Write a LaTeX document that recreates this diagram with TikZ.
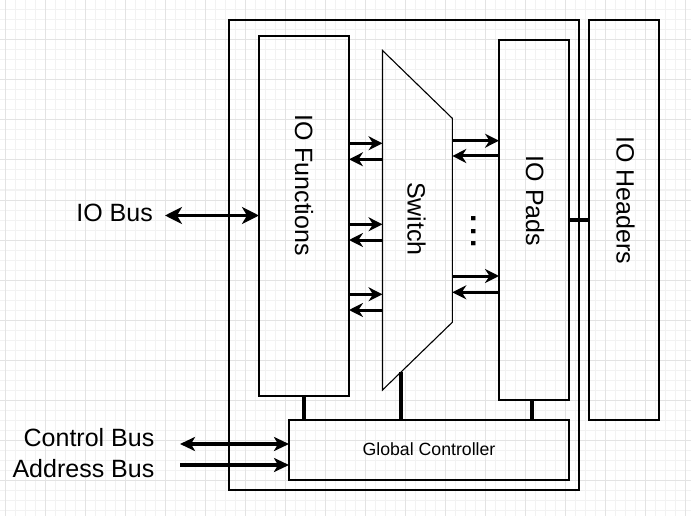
\documentclass[tikz,border=0pt]{standalone}
\usepackage{fontspec}
\setmainfont{Liberation Sans}
\usetikzlibrary{arrows.meta}
\definecolor{gridminor}{gray}{0.95}
\definecolor{gridmajor}{gray}{0.89}
\begin{document}
\begin{tikzpicture}[x=1pt,y=-1pt,
  box/.style={draw=black,line width=1.1pt,inner sep=0pt,outer sep=0pt,anchor=north west},
  big/.style={font=\fontsize{25}{30}\selectfont,inner sep=0pt},
  small/.style={font=\fontsize{17.7}{21}\selectfont,inner sep=0pt},
  conn/.style={line width=3.2pt},
  sarr/.style={line width=3pt,-{Stealth[length=14pt,width=14pt,inset=4.5pt]}},
  barr/.style={line width=3.4pt,{Stealth[length=17pt,width=17pt,inset=5pt]}-{Stealth[length=17pt,width=17pt,inset=5pt]}},
  carr/.style={line width=3.2pt,-{Stealth[length=15pt,width=14pt,inset=4pt]}},
  cdarr/.style={line width=3.2pt,{Stealth[length=15pt,width=14pt,inset=4pt]}-{Stealth[length=15pt,width=14pt,inset=4pt]}},
]
\useasboundingbox (0,0) rectangle (691,516);
% grid
\foreach \i in {5,15,...,685} \draw[gridminor,line width=1pt] (\i,0) -- (\i,516);
\foreach \j in {10,20,...,510} \draw[gridminor,line width=1pt] (0,\j) -- (691,\j);
\foreach \i in {5,45,...,685} \draw[gridmajor,line width=1pt] (\i,0) -- (\i,516);
\foreach \j in {40,80,...,510} \draw[gridmajor,line width=1pt] (0,\j) -- (691,\j);

% boxes
\node[box,minimum width=350pt,minimum height=470pt] (outer) at (229,20) {};
\node[box,minimum width=90pt,minimum height=360pt] (iof) at (259,36) {};
\node[box,minimum width=70pt,minimum height=360pt] (pads) at (499,40) {};
\node[box,minimum width=70pt,minimum height=400pt] (hdr) at (589,20) {};
\node[box,minimum width=280pt,minimum height=60pt] (gc) at (289,420) {};

% switch trapezoid
\coordinate (swtl) at (382.5,50.5);
\coordinate (swtr) at (452.3,118.3);
\coordinate (swbr) at (452.3,322.3);
\coordinate (swbl) at (382.5,390);
\draw[line width=1.1pt,line join=miter] (swtl) -- (swtr) -- (swbr) -- (swbl) -- cycle;
\coordinate (swb) at (401,372);

% labels
\node[big,rotate=-90] (lif) at (304,185) {IO Functions};
\node[big,rotate=-90] (lsw) at (416.5,219) {Switch};
\node[big,rotate=-90] (lpads) at (535,201) {IO Pads};
\node[big,rotate=-90] (lhdr) at (625.5,200) {IO Headers};
\node[small] (lgc) at (429,449.5) {Global Controller};
\node[big,anchor=east] (iobus) at (153,212.5) {IO Bus};
\node[big,anchor=east] (cbus) at (154.5,438) {Control Bus};
\node[big,anchor=east] (abus) at (154.5,469) {Address Bus};
\node[font=\fontsize{30}{34}\selectfont\bfseries,inner sep=0pt,rotate=-90] (dots) at (474,231.5) {.\kern4.2pt.\kern4.2pt.};

% IO Bus
\coordinate (iobusend) at (165,215.5);
\draw[barr] (iobusend) -- (iof.west |- iobusend);
% control / address
\coordinate (cbend) at (180,444);
\coordinate (abend) at (180,465);
\draw[cdarr] (cbend) -- (gc.west |- cbend);
\draw[carr] (abend) -- (gc.west |- abend);

% IO functions <-> switch
\foreach \yr/\yl in {143.3/159.3,224.3/240,294.3/310}{
  \draw[sarr] (iof.east |- 0,\yr) -- (swtl |- 0,\yr);
  \draw[sarr] (swtl |- 0,\yl) -- (iof.east |- 0,\yl);
}
% switch <-> pads
\foreach \yr/\yl in {140.7/156,276/292.3}{
  \draw[sarr] (swtr |- 0,\yr) -- (pads.west |- 0,\yr);
  \draw[sarr] (pads.west |- 0,\yl) -- (swtr |- 0,\yl);
}

% connectors to global controller
\draw[conn] (iof.south) -- (iof.south |- gc.north);
\draw[conn] (swb) -- (swb |- gc.north);
\draw[conn] ([xshift=-2pt]pads.south) -- ([xshift=-2pt]pads.south |- gc.north);
% pads to headers
\draw[conn] (pads.east) -- (hdr.west);
\end{tikzpicture}
\end{document}
